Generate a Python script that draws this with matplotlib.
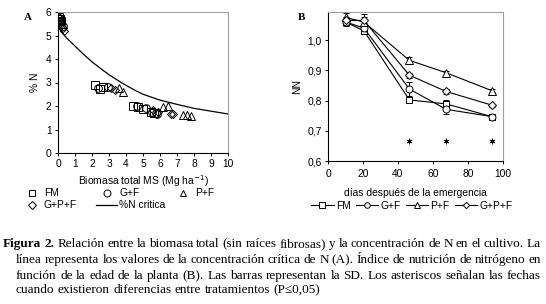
import matplotlib
matplotlib.use("Agg")
import matplotlib.pyplot as plt
from matplotlib.lines import Line2D

plt.rcParams['font.family'] = ['Liberation Sans', 'DejaVu Sans']

# ---- panel A: biomass vs %N ----
fm_x = [0.05, 0.1, 0.15, 2.15, 2.48, 2.64, 4.43, 4.72, 5.02, 5.47, 5.64]
fm_y = [5.8, 5.7, 5.6, 2.9, 2.71, 2.8, 1.98, 1.97, 1.86, 1.75, 1.69]
gf_x = [0.08, 0.2, 0.3, 2.38, 2.97, 4.63, 5.2, 5.5, 5.76, 5.8]
gf_y = [5.75, 5.55, 5.4, 2.75, 2.8, 1.98, 1.9, 1.75, 1.7, 1.65]
pf_x = [0.05, 0.15, 0.25, 3.6, 3.85, 6.19, 6.48, 7.36, 7.6, 7.85]
pf_y = [5.85, 5.65, 5.5, 2.75, 2.6, 1.95, 2.0, 1.6, 1.6, 1.56]
gpf_x = [0.1, 0.3, 0.35, 3.12, 3.36, 5.6, 5.9, 6.65, 6.78]
gpf_y = [5.6, 5.3, 5.2, 2.75, 2.7, 1.82, 1.75, 1.65, 1.65]
crit_x = [0.05, 0.5, 1, 1.5, 2, 2.5, 3, 3.5, 4, 4.5, 5, 6, 7, 8, 9, 10]
crit_y = [5.3, 4.9, 4.55, 4.2, 3.88, 3.6, 3.33, 3.1, 2.88, 2.68, 2.5, 2.25, 2.07, 1.9, 1.78, 1.66]

# ---- panel B: INN vs days ----
days = [10, 20.5, 46.5, 67.5, 93.5]
inn_fm = [1.06, 1.031, 0.802, 0.789, 0.747]
inn_gf = [1.06, 1.04, 0.838, 0.771, 0.747]
inn_pf = [1.075, 1.06, 0.933, 0.892, 0.833]
inn_gpf = [1.065, 1.065, 0.884, 0.83, 0.785]
sd_fm = [0.01, 0.008, 0.006, 0.012, 0.005]
sd_gf = [0.012, 0.01, 0.022, 0.016, 0.005]
sd_pf = [0.015, 0.025, 0.01, 0.006, 0.005]
sd_gpf = [0.01, 0.012, 0.008, 0.008, 0.005]
star_days = [46.5, 67.5, 93.5]
star_y = [0.665, 0.665, 0.665]

caption_lines = [
    "Relación entre la biomasa total (sin raíces fibrosas) y la concentración de N en el cultivo. La",
    "línea representa los valores de la concentración crítica de N (A). Índice de nutrición de nitrógeno en",
    "función de la edad de la planta (B). Las barras representan la SD. Los asteriscos señalan las fechas",
    "cuando existieron diferencias entre tratamientos (P≤0,05)",
]

W, H = 546, 304
fig = plt.figure(figsize=(W / 100, H / 100), dpi=100)


def px_axes(l, t, r, b):
    return fig.add_axes([l / W, 1 - b / H, (r - l) / W, (b - t) / H])


def style(ax):
    for s in ['top', 'right']:
        ax.spines[s].set_color('#a0a0a0')
    for s in ['left', 'bottom']:
        ax.spines[s].set_linewidth(0.8)
    ax.tick_params(labelsize=fs, length=2.5, width=0.7, pad=2)


fs = 7.4
mk = dict(ls='none', mfc='none', mec='black', mew=0.7, ms=5.5)

axA = px_axes(58, 12, 228, 153)
style(axA)
axA.plot(fm_x, fm_y, marker='s', **mk)
axA.plot(gf_x, gf_y, marker='o', **mk)
axA.plot(pf_x, pf_y, marker='^', **mk)
axA.plot(gpf_x, gpf_y, marker='D', ls='none', mfc='none', mec='black', mew=0.7, ms=4.2)
axA.plot(crit_x, crit_y, color='black', lw=0.9)
axA.set_xlim(0, 10)
axA.set_ylim(0, 6)
axA.set_xticks(range(0, 11))
axA.set_yticks(range(0, 7))
axA.set_xlabel('Biomasa total MS (Mg ha$^{-1}$)', fontsize=fs, labelpad=3)
axA.set_ylabel('% N', fontsize=fs, labelpad=4)
axA.text(-0.18, 0.96, 'A', transform=axA.transAxes, fontsize=8, fontweight='bold',
         family='Liberation Serif', ha='center', va='center')

# legend of panel A, laid out by hand (two rows, uneven columns)
legA = [('s', 'FM', 32, 193), ('o', 'G+F', 107, 193), ('^', 'P+F', 183, 193),
        ('D', 'G+P+F', 32, 205)]
for m, lab, x, y in legA:
    fig.add_artist(Line2D([x / W], [1 - y / H], transform=fig.transFigure, ls='none',
                          marker=m, ms=4.2 if m == 'D' else 5, mfc='none',
                          mec='black', mew=0.7))
    fig.text((x + 12) / W, 1 - y / H, lab, fontsize=fs, va='center')
fig.add_artist(Line2D([96 / W, 117 / W], [1 - 205 / H] * 2, transform=fig.transFigure,
                      color='black', lw=0.9))
fig.text(119 / W, 1 - 205 / H, '%N critica', fontsize=fs, va='center')

axB = px_axes(328, 12, 503, 161)
style(axB)
series = [(inn_fm, sd_fm, 's', 'FM', 5), (inn_gf, sd_gf, 'o', 'G+F', 5),
          (inn_pf, sd_pf, '^', 'P+F', 5.5), (inn_gpf, sd_gpf, 'D', 'G+P+F', 4)]
handles = []
for vals, sd, m, lab, ms in series:
    axB.errorbar(days, vals, yerr=sd, color='black', lw=0.8, elinewidth=0.8,
                 capsize=2.5, capthick=0.8, marker=m, ms=ms, mfc='white',
                 mec='black', mew=0.7, label=lab)
    handles.append(Line2D([], [], color='black', lw=0.8, marker=m, ms=ms * 0.8,
                          mfc='white', mec='black', mew=0.7))
axB.plot(star_days, star_y, ls='none', marker=(6, 2, 0), ms=4, mew=0.7, color='black')
axB.set_xlim(0, 100)
axB.set_ylim(0.6, 1.093)
axB.set_xticks(range(0, 101, 20))
axB.set_yticks([0.6, 0.7, 0.8, 0.9, 1.0])
axB.set_yticklabels(['0,6', '0,7', '0,8', '0,9', '1,0'])
axB.tick_params(axis='x', pad=3.5)
axB.set_xlabel('días después de la emergencia', fontsize=fs, labelpad=6)
axB.set_ylabel('NN', fontsize=fs, labelpad=4)
axB.text(-0.15, 0.96, 'B', transform=axB.transAxes, fontsize=8, fontweight='bold',
         family='Liberation Serif', ha='center', va='center')
fig.legend(handles, ['FM', 'G+F', 'P+F', 'G+P+F'], ncol=4, loc='center left',
           bbox_to_anchor=(306 / W, 1 - 206 / H), frameon=False, fontsize=fs,
           handlelength=2.2, handletextpad=0.2, columnspacing=0.5, borderpad=0)

# ---- justified caption ----
cap_fs = 9.5
renderer = fig.canvas.get_renderer()


def text_width(s, weight='normal'):
    t = fig.text(0, 0, s, fontsize=cap_fs, family='Liberation Serif', fontweight=weight)
    w = t.get_window_extent(renderer).width
    t.remove()
    return w


def draw_line(y, x0, x1, parts, justify):
    # parts: list of (word, weight)
    widths = [text_width(w, wt) for w, wt in parts]
    gap = text_width('a a') - text_width('aa')
    if justify and len(parts) > 1:
        gap = (x1 - x0 - sum(widths)) / (len(parts) - 1)
    x = x0
    for (w, wt), wd in zip(parts, widths):
        fig.text(x / W, 1 - y / H, w, fontsize=cap_fs, family='Liberation Serif',
                 fontweight=wt, va='baseline')
        x += wd + gap


line_y = [247, 263, 279, 293]
first = [('Figura', 'bold'), ('2.', 'bold')] + [(w, 'normal') for w in caption_lines[0].split()]
draw_line(line_y[0], 3, 541, first, True)
for i in range(1, 4):
    draw_line(line_y[i], 16, 541, [(w, 'normal') for w in caption_lines[i].split()], i < 3)

fig.savefig('out.png', dpi=100)
